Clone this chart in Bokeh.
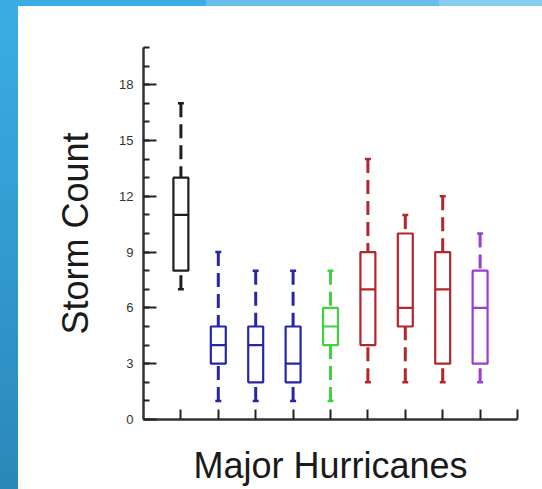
from bokeh.plotting import figure
from bokeh.models import FixedTicker, ColumnDataSource, Div
from bokeh.layouts import column, row
from bokeh.embed import file_html
from bokeh.resources import INLINE

# ---- data ----
groups = [1, 2, 3, 4, 5, 6, 7, 8, 9]
whisker_low = [7, 1, 1, 1, 1, 2, 2, 2, 2]
q1 = [8, 3, 2, 2, 4, 4, 5, 3, 3]
median = [11, 4, 4, 3, 5, 7, 6, 7, 6]
q3 = [13, 5, 5, 5, 6, 9, 10, 9, 8]
whisker_high = [17, 9, 8, 8, 8, 14, 11, 12, 10]
colors = ["#1e1e1e", "#2626a8", "#2626a8", "#2626a8", "#3fd43f",
          "#b3262b", "#b3262b", "#b3262b", "#9a3ed0"]
y_ticks = [0, 3, 6, 9, 12, 15, 18]
y_minor = list(range(0, 21))
x_ticks = [1, 2, 3, 4, 5, 6, 7, 8, 9, 10]

BOX_HALF = 0.2
CAP_HALF = 0.08

src = ColumnDataSource(dict(
    x=groups, low=whisker_low, q1=q1, med=median, q3=q3, high=whisker_high,
    color=colors,
    xl=[g - BOX_HALF for g in groups], xr=[g + BOX_HALF for g in groups],
    cl=[g - CAP_HALF for g in groups], cr=[g + CAP_HALF for g in groups],
))

p = figure(width=524, height=483, x_range=(0, 10), y_range=(0, 20),
           output_backend="svg", toolbar_location=None,
           min_border_left=125, min_border_right=25,
           min_border_top=41, min_border_bottom=70)
p.margin = 0
p.outline_line_color = None
p.xgrid.visible = False
p.ygrid.visible = False
p.background_fill_color = "white"
p.border_fill_color = "white"

# whiskers (drawn from the extreme toward the box)
p.segment(x0="x", y0="high", x1="x", y1="q3", source=src, line_color="color",
          line_width=3, line_dash="14 7")
p.segment(x0="x", y0="low", x1="x", y1="q1", source=src, line_color="color",
          line_width=3, line_dash="14 7")
# caps
p.segment(x0="cl", y0="high", x1="cr", y1="high", source=src, line_color="color", line_width=2.5)
p.segment(x0="cl", y0="low", x1="cr", y1="low", source=src, line_color="color", line_width=2.5)
# boxes
p.vbar(x="x", width=2 * BOX_HALF, bottom="q1", top="q3", source=src,
       fill_color="white", line_color="color", line_width=2.2)
# medians
p.segment(x0="xl", y0="med", x1="xr", y1="med", source=src, line_color="color", line_width=2.2)

FONT = "Liberation Sans"

# x axis: unlabeled ticks (drawn as minor ticks so no empty labels are made)
ax = p.xaxis[0]
ax.ticker = FixedTicker(ticks=[], minor_ticks=x_ticks)
ax.major_label_standoff = 0
ax.major_tick_line_color = None
ax.minor_tick_in = 10
ax.minor_tick_out = 0
ax.minor_tick_line_width = 2
ax.minor_tick_line_color = "#222222"
ax.axis_line_width = 2.5
ax.axis_line_color = "#333333"
ax.axis_label = "Major Hurricanes"
ax.axis_label_text_font = FONT
ax.axis_label_text_font_size = "36px"
ax.axis_label_text_font_style = "normal"
ax.axis_label_text_color = "#1a1a1a"
ax.axis_label_standoff = 25

ay = p.yaxis[0]
ay.ticker = FixedTicker(ticks=y_ticks, minor_ticks=y_minor)
ay.major_label_text_font = FONT
ay.major_label_text_font_size = "13px"
ay.major_label_text_color = "#333333"
ay.major_label_standoff = 10
ay.major_tick_in = 13
ay.major_tick_out = 0
ay.minor_tick_in = 6
ay.minor_tick_out = 0
ay.major_tick_line_width = 2
ay.minor_tick_line_width = 2
ay.major_tick_line_color = "#222222"
ay.minor_tick_line_color = "#222222"
ay.axis_line_width = 2.5
ay.axis_line_color = "#333333"
ay.axis_label = "Storm Count"
ay.axis_label_text_font = FONT
ay.axis_label_text_font_size = "36px"
ay.axis_label_text_font_style = "normal"
ay.axis_label_text_color = "#1a1a1a"
ay.axis_label_standoff = 20

top_strip = Div(text="", width=542, height=6, margin=0,
                styles={"background": "linear-gradient(90deg, #3aaee4 0%, #3aaee4 38%, #66c0ea 38%, #66c0ea 81%, #84cdf0 81%, #84cdf0 100%)"})
left_strip = Div(text="", width=18, height=483, margin=0,
                 styles={"background": "linear-gradient(180deg, #3aaee4 0%, #2b87ba 100%)"})

layout = column(top_strip, row(left_strip, p, spacing=0, margin=0), spacing=0, margin=0)

open("out.html", "w").write(file_html(layout, INLINE))
